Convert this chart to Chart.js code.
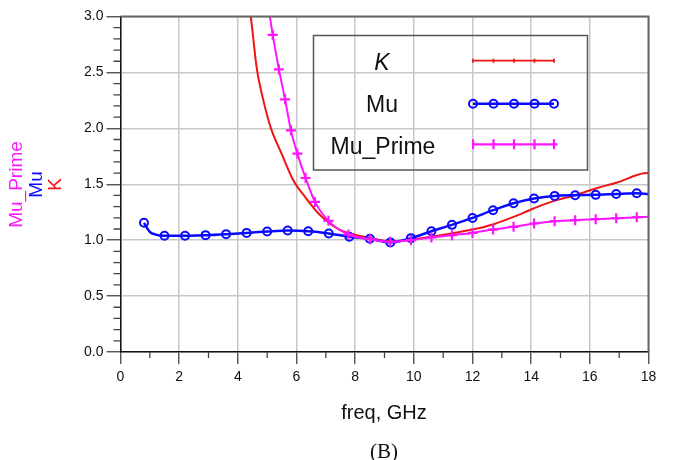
<!DOCTYPE html>
<html>
<head>
<meta charset="utf-8">
<script src="https://cdn.jsdelivr.net/npm/chart.js@4/dist/chart.umd.min.js"></script>
<style>
  body { margin: 0; background: #fff; }
  #stab { display: block; }
</style>
</head>
<body>
<canvas id="stab" width="676" height="460"></canvas>
<script>
// K stability factor (red, no markers)
const kFreq = [4.3, 4.44, 4.64, 4.87, 5.13, 5.49, 5.89, 6.29, 6.75, 7.14, 7.49, 7.83, 8.5, 9.2, 9.99, 11.13, 12.0, 12.72, 13.4, 14.08, 14.77, 15.5, 16.25, 16.93, 17.84, 18.0];
const kVals = [3.2, 3.0, 2.547, 2.25, 2.0, 1.775, 1.536, 1.387, 1.238, 1.149, 1.089, 1.06, 1.02, 0.99, 1.009, 1.054, 1.095, 1.143, 1.208, 1.283, 1.351, 1.402, 1.467, 1.515, 1.598, 1.60];

// Mu (blue, circle markers)
const muFreq = [0.8, 1.0, 1.2, 1.5, 2.2, 2.9, 3.6, 4.3, 5.0, 5.7, 6.4, 7.1, 7.8, 8.5, 9.2, 9.9, 10.6, 11.3, 12.0, 12.7, 13.4, 14.1, 14.8, 15.5, 16.2, 16.9, 17.6, 18.0];
const muVals = [1.155, 1.075, 1.05, 1.04, 1.04, 1.045, 1.054, 1.065, 1.077, 1.086, 1.08, 1.06, 1.03, 1.012, 0.98, 1.018, 1.08, 1.137, 1.199, 1.268, 1.33, 1.372, 1.396, 1.402, 1.405, 1.413, 1.42, 1.41];
const muMarks = [0.8, 1.5, 2.2, 2.9, 3.6, 4.3, 5.0, 5.7, 6.4, 7.1, 7.8, 8.5, 9.2, 9.9, 10.6, 11.3, 12.0, 12.7, 13.4, 14.1, 14.8, 15.5, 16.2, 16.9, 17.6];

// Mu_Prime (magenta, cross markers)
const mpFreq = [5.0, 5.19, 5.4, 5.61, 5.81, 6.03, 6.31, 6.63, 7.09, 7.77, 8.51, 9.19, 9.9, 10.6, 11.3, 12.0, 12.7, 13.4, 14.1, 14.8, 15.5, 16.2, 16.9, 17.6, 18.0];
const mpVals = [3.15, 2.836, 2.527, 2.259, 1.982, 1.774, 1.556, 1.342, 1.173, 1.051, 1.009, 0.985, 1.0, 1.024, 1.045, 1.065, 1.095, 1.119, 1.149, 1.17, 1.179, 1.188, 1.196, 1.205, 1.21];
const mpMarks = [5.19, 5.4, 5.61, 5.81, 6.03, 6.31, 6.63, 7.09, 7.77, 8.51, 9.19, 9.9, 10.6, 11.3, 12.0, 12.7, 13.4, 14.1, 14.8, 15.5, 16.2, 16.9, 17.6];

const xTicks = [0, 2, 4, 6, 8, 10, 12, 14, 16, 18];
const yTicks = [0, 0.5, 1.0, 1.5, 2.0, 2.5, 3.0];

const RED = '#f01414', BLUE = '#0a0aff', MAG = '#ff14ff';
const SANS = "'Liberation Sans', Arial, sans-serif";

function pts(xs, ys) { return xs.map((x, i) => ({ x: x, y: ys[i] })); }

// axes decoration, frame, legend box and titles
const decor = {
  id: 'decor',
  afterDraw(chart) {
    const { ctx, chartArea: a, scales: { x, y } } = chart;
    ctx.save();

    // top and right frame
    ctx.strokeStyle = '#666';
    ctx.lineWidth = 2;
    ctx.beginPath();
    ctx.moveTo(a.left, a.top);
    ctx.lineTo(a.right, a.top);
    ctx.lineTo(a.right, a.bottom);
    ctx.stroke();

    // minor ticks
    ctx.strokeStyle = '#444';
    ctx.lineWidth = 1.3;
    ctx.beginPath();
    for (let v = 1; v < 18; v += 2) {
      const px = x.getPixelForValue(v);
      ctx.moveTo(px, a.bottom);
      ctx.lineTo(px, a.bottom + 6);
    }
    for (let k = 1; k < 30; k++) {
      if (k % 5 === 0) continue;
      const py = y.getPixelForValue(k / 10);
      ctx.moveTo(a.left - 7, py);
      ctx.lineTo(a.left, py);
    }
    ctx.stroke();

    // legend box
    ctx.strokeStyle = '#555';
    ctx.lineWidth = 1.5;
    ctx.strokeRect(313.5, 35.5, 274, 134.5);

    ctx.fillStyle = '#111';
    ctx.textAlign = 'center';
    ctx.textBaseline = 'alphabetic';
    ctx.font = 'italic 23px ' + SANS;
    ctx.fillText('K', 382, 70);
    ctx.font = '23px ' + SANS;
    ctx.fillText('Mu', 382, 112);
    ctx.fillText('Mu_Prime', 383, 154);

    const lx = [473, 493.5, 514, 534.5, 554];
    // K sample
    ctx.strokeStyle = RED;
    ctx.lineWidth = 1.8;
    ctx.beginPath();
    ctx.moveTo(474, 60.7); ctx.lineTo(554, 60.7);
    lx.forEach(p => { ctx.moveTo(p, 58.7); ctx.lineTo(p, 62.7); });
    ctx.stroke();
    // Mu sample
    ctx.strokeStyle = BLUE;
    ctx.lineWidth = 2.5;
    ctx.beginPath();
    ctx.moveTo(473, 103.7); ctx.lineTo(554, 103.7);
    ctx.stroke();
    ctx.lineWidth = 2;
    lx.forEach(p => {
      ctx.beginPath();
      ctx.arc(p, 103.7, 4, 0, Math.PI * 2);
      ctx.stroke();
    });
    // Mu_Prime sample
    ctx.strokeStyle = MAG;
    ctx.lineWidth = 2.2;
    ctx.beginPath();
    ctx.moveTo(472, 144.3); ctx.lineTo(557.5, 144.3);
    lx.forEach(p => { ctx.moveTo(p, 139.3); ctx.lineTo(p, 149.3); });
    ctx.stroke();

    // y titles, rotated
    ctx.font = '19px ' + SANS;
    [['Mu_Prime', MAG, 22], ['Mu', BLUE, 41.5], ['K', RED, 61]].forEach(t => {
      ctx.save();
      ctx.translate(t[2], 184.5);
      ctx.rotate(-Math.PI / 2);
      ctx.fillStyle = t[1];
      ctx.fillText(t[0], 0, 0);
      ctx.restore();
    });

    // x title and caption
    ctx.fillStyle = '#111';
    ctx.font = '20px ' + SANS;
    ctx.fillText('freq, GHz', 384, 419);
    ctx.font = "21px 'Liberation Serif', 'Times New Roman', serif";
    ctx.fillText('(B)', 384, 458);
    ctx.restore();
  }
};

new Chart(document.getElementById('stab'), {
  type: 'line',
  data: {
    datasets: [{
      label: 'Mu_Prime',
      data: pts(mpFreq, mpVals),
      borderColor: MAG,
      borderWidth: 2,
      cubicInterpolationMode: 'monotone',
      pointStyle: 'cross',
      pointRadius: c => mpMarks.includes(mpFreq[c.dataIndex]) ? 5 : 0,
      pointBorderWidth: 2.2,
      pointBorderColor: MAG,
      clip: 0,
      order: 0
    }, {
      label: 'Mu',
      data: pts(muFreq, muVals),
      borderColor: BLUE,
      borderWidth: 2.5,
      cubicInterpolationMode: 'monotone',
      pointStyle: 'circle',
      pointRadius: c => muMarks.includes(muFreq[c.dataIndex]) ? 4 : 0,
      pointBorderWidth: 2,
      pointBorderColor: BLUE,
      pointBackgroundColor: 'rgba(0,0,0,0)',
      clip: 0,
      order: 1
    }, {
      label: 'K',
      data: pts(kFreq, kVals),
      borderColor: RED,
      borderWidth: 2,
      cubicInterpolationMode: 'monotone',
      pointRadius: 0,
      clip: 0,
      order: 2
    }]
  },
  options: {
    responsive: false,
    animation: false,
    events: [],
    layout: { padding: { top: 16.5, right: 27.5, bottom: 0, left: 0 } },
    plugins: { legend: { display: false }, tooltip: { enabled: false } },
    scales: {
      x: {
        type: 'linear',
        min: 0,
        max: 18,
        afterBuildTicks: s => { s.ticks = xTicks.map(v => ({ value: v })); },
        afterFit: s => { s.height = 108; },
        ticks: { color: '#111', padding: 5, maxRotation: 0, font: { family: SANS, size: 14 } },
        grid: { color: '#c8c8c8', lineWidth: 1.5, tickLength: 12, tickColor: '#444', tickWidth: 1.3 },
        border: { color: '#111', width: 1.5 }
      },
      y: {
        min: 0,
        max: 3,
        afterBuildTicks: s => { s.ticks = yTicks.map(v => ({ value: v })); },
        afterFit: s => { s.width = 120.5; },
        ticks: { color: '#111', padding: 3, callback: v => v.toFixed(1), font: { family: SANS, size: 14 } },
        grid: { color: '#c8c8c8', lineWidth: 1.5, tickLength: 14, tickColor: '#444', tickWidth: 1.3 },
        border: { color: '#111', width: 1.5 }
      }
    }
  },
  plugins: [decor]
});
</script>
</body>
</html>
